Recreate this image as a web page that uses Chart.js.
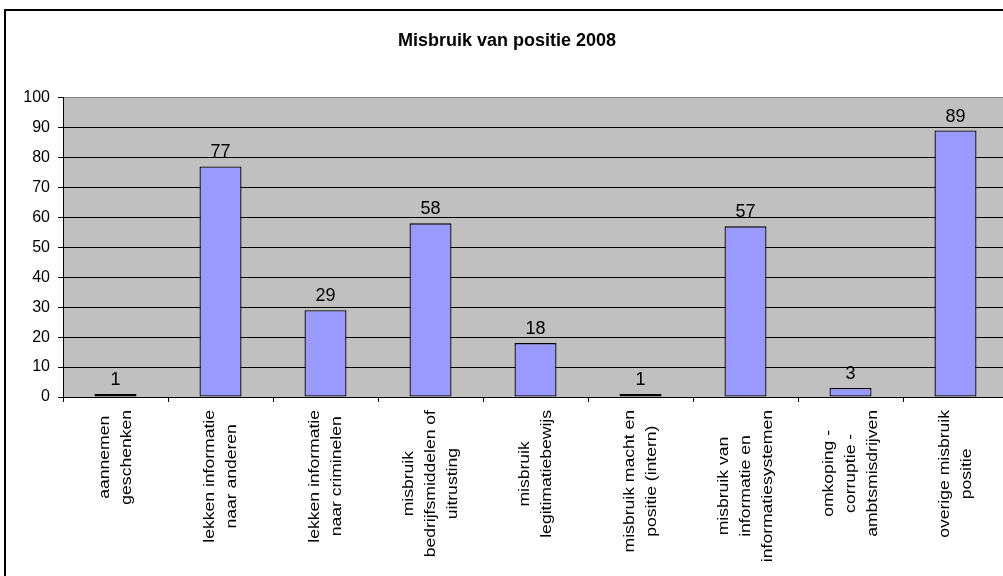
<!DOCTYPE html>
<html lang="nl">
<head>
    <meta charset="UTF-8">
    <title>Misbruik van positie 2008</title>
    <script src="https://cdn.jsdelivr.net/npm/chart.js"></script>
    <style>
        html, body {
            margin: 0;
            padding: 0;
            background: white;
            overflow: hidden;
            width: 1003px;
            height: 576px;
        }
        #frame {
            position: absolute;
            left: 4px;
            top: 9px;
            width: 1004px;
            height: 580px;
            border: 2px solid #000;
        }
        canvas {
            display: block;
        }
    </style>
</head>
<body>
    <div id="frame">
        <canvas id="misbruikChart" width="1004" height="580"></canvas>
    </div>
    <script>
        const categories = [
            ['aannemen', 'geschenken'],
            ['lekken informatie', 'naar anderen'],
            ['lekken informatie', 'naar criminelen'],
            ['misbruik', 'bedrijfsmiddelen of', 'uitrusting'],
            ['misbruik', 'legitimatiebewijs'],
            ['misbruik macht en', 'positie (intern)'],
            ['misbruik van', 'informatie en', 'informatiesystemen'],
            ['omkoping -', 'corruptie -', 'ambtsmisdrijven'],
            ['overige misbruik', 'positie']
        ];
        const values = [1, 77, 29, 58, 18, 1, 57, 3, 89];
        const yMin = 0;
        const yMax = 100;
        const yStep = 10;

        const fontFamily = '"Liberation Sans", Arial, sans-serif';

        // grijze achtergrond van het plotgebied
        const plotBackground = {
            id: 'plotBackground',
            beforeDraw(chart) {
                const { ctx, chartArea: a } = chart;
                ctx.save();
                ctx.fillStyle = '#C0C0C0';
                ctx.fillRect(a.left, a.top, a.right - a.left, a.bottom - a.top);
                ctx.restore();
            }
        };

        // waarden boven de staven
        const valueLabels = {
            id: 'valueLabels',
            afterDatasetsDraw(chart) {
                const ctx = chart.ctx;
                const meta = chart.getDatasetMeta(0);
                ctx.save();
                ctx.font = '18px ' + fontFamily;
                ctx.fillStyle = '#000';
                ctx.textAlign = 'center';
                ctx.textBaseline = 'alphabetic';
                meta.data.forEach((bar, i) => {
                    ctx.fillText(String(values[i]), bar.x, bar.y - 9);
                });
                ctx.restore();
            }
        };

        // verticale, gecentreerde categorielabels (zoals Excel)
        const categoryLabels = {
            id: 'categoryLabels',
            afterDraw(chart) {
                const ctx = chart.ctx;
                const xs = chart.scales.x;
                const stretch = 1.17;
                const lineGap = 22;
                ctx.save();
                ctx.font = '15px ' + fontFamily;
                ctx.fillStyle = '#000';
                ctx.textAlign = 'center';
                ctx.textBaseline = 'middle';
                categories.forEach((lines, i) => {
                    const x = xs.getPixelForTick(i);
                    const maxW = Math.max(...lines.map(l => ctx.measureText(l).width)) * stretch;
                    const top = chart.chartArea.bottom + 13;
                    ctx.save();
                    ctx.translate(x, top + maxW / 2);
                    ctx.rotate(-Math.PI / 2);
                    ctx.scale(stretch, 1);
                    lines.forEach((l, j) => {
                        ctx.fillText(l, 0, (j - (lines.length - 1) / 2) * lineGap);
                    });
                    ctx.restore();
                });
                ctx.restore();
            }
        };

        const ctx = document.getElementById('misbruikChart').getContext('2d');
        const misbruikChart = new Chart(ctx, {
            type: 'bar',
            data: {
                labels: categories,
                datasets: [{
                    data: values,
                    backgroundColor: '#9999FF',
                    borderColor: '#000',
                    borderWidth: 1.3,
                    borderSkipped: false,
                    barPercentage: 0.4,
                    categoryPercentage: 1.0
                }]
            },
            options: {
                responsive: false,
                animation: false,
                devicePixelRatio: 1,
                layout: {
                    padding: { left: 0, right: 2, top: 0, bottom: 189 }
                },
                plugins: {
                    legend: { display: false },
                    tooltip: { enabled: false },
                    title: {
                        display: true,
                        text: 'Misbruik van positie 2008',
                        color: '#000',
                        font: { family: fontFamily, size: 18, weight: 'bold', lineHeight: 1.2 },
                        padding: { top: 19, bottom: 46 }
                    }
                },
                scales: {
                    x: {
                        ticks: { display: false },
                        grid: {
                            display: true,
                            drawOnChartArea: false,
                            drawTicks: true,
                            tickLength: 5,
                            tickColor: '#000',
                            offset: true
                        },
                        border: { display: true, color: '#000', width: 1 },
                        afterFit(scale) { scale.height = 5; }
                    },
                    y: {
                        min: yMin,
                        max: yMax,
                        ticks: {
                            stepSize: yStep,
                            color: '#000',
                            padding: 8,
                            font: { family: fontFamily, size: 16 }
                        },
                        grid: {
                            color: c => (c.tick && c.tick.value === yMax) ? '#808080' : '#000',
                            tickColor: '#000',
                            tickLength: 5,
                            lineWidth: 1
                        },
                        border: { display: true, color: '#000', width: 1 },
                        afterFit(scale) { scale.width = 57; }
                    }
                }
            },
            plugins: [plotBackground, valueLabels, categoryLabels]
        });
    </script>
</body>
</html>
